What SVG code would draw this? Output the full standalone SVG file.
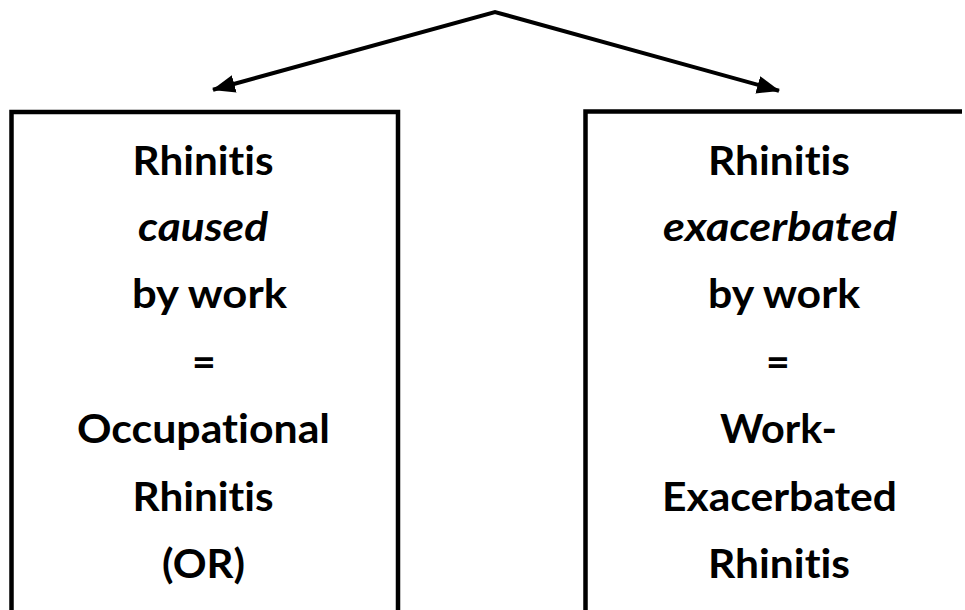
<svg xmlns="http://www.w3.org/2000/svg" width="965" height="610" viewBox="0 0 965 610">
<defs>
<marker id="ah" markerUnits="userSpaceOnUse" markerWidth="24" markerHeight="20" refX="22" refY="9" orient="auto-start-reverse" viewBox="0 0 24 20">
<path d="M0,0 L23,9 L0,18 z" fill="#000"/>
</marker>
<style>
.box{fill:none;stroke:#000;stroke-width:4.5}
.t{font-family:Lato,"Open Sans","Liberation Sans",sans-serif;font-weight:bold;font-size:41px;fill:#000;text-anchor:middle;font-variant-ligatures:none;font-feature-settings:"liga" 0}
.i{font-style:italic}
.con{fill:none;stroke:#000;stroke-width:4;stroke-linejoin:miter}
</style>
</defs>
<rect width="965" height="610" fill="#fff"/>
<g id="connectors">
<polyline class="con" points="213,89.7 495,12 779,90.7" marker-start="url(#ah)" marker-end="url(#ah)"/>
</g>
<g id="node-left">
<path class="box" d="M11.5,620 V112 H398 V620"/>
<text class="t" x="203" y="175" textLength="141" lengthAdjust="spacingAndGlyphs">Rhinitis</text>
<text class="t i" x="203" y="241" textLength="130" lengthAdjust="spacingAndGlyphs">caused</text>
<text class="t" x="209.5" y="308" textLength="155" lengthAdjust="spacingAndGlyphs">by work</text>
<text class="t" x="204" y="376">=</text>
<text class="t" x="203.5" y="443" textLength="253" lengthAdjust="spacingAndGlyphs">Occupational</text>
<text class="t" x="203" y="511" textLength="141" lengthAdjust="spacingAndGlyphs">Rhinitis</text>
<text class="t" x="203.5" y="578" textLength="83" lengthAdjust="spacingAndGlyphs">(OR)</text>
</g>
<g id="node-right">
<path class="box" d="M585.5,620 V111.5 H962"/>
<text class="t" x="779" y="175" textLength="142" lengthAdjust="spacingAndGlyphs">Rhinitis</text>
<text class="t i" x="780" y="241" textLength="234" lengthAdjust="spacingAndGlyphs">exacerbated</text>
<text class="t" x="784" y="308" textLength="152" lengthAdjust="spacingAndGlyphs">by work</text>
<text class="t" x="778" y="376">=</text>
<text class="t" x="778.5" y="443" textLength="117" lengthAdjust="spacingAndGlyphs">Work-</text>
<text class="t" x="779.5" y="511" textLength="235" lengthAdjust="spacingAndGlyphs">Exacerbated</text>
<text class="t" x="779" y="578" textLength="142" lengthAdjust="spacingAndGlyphs">Rhinitis</text>
</g>
</svg>
